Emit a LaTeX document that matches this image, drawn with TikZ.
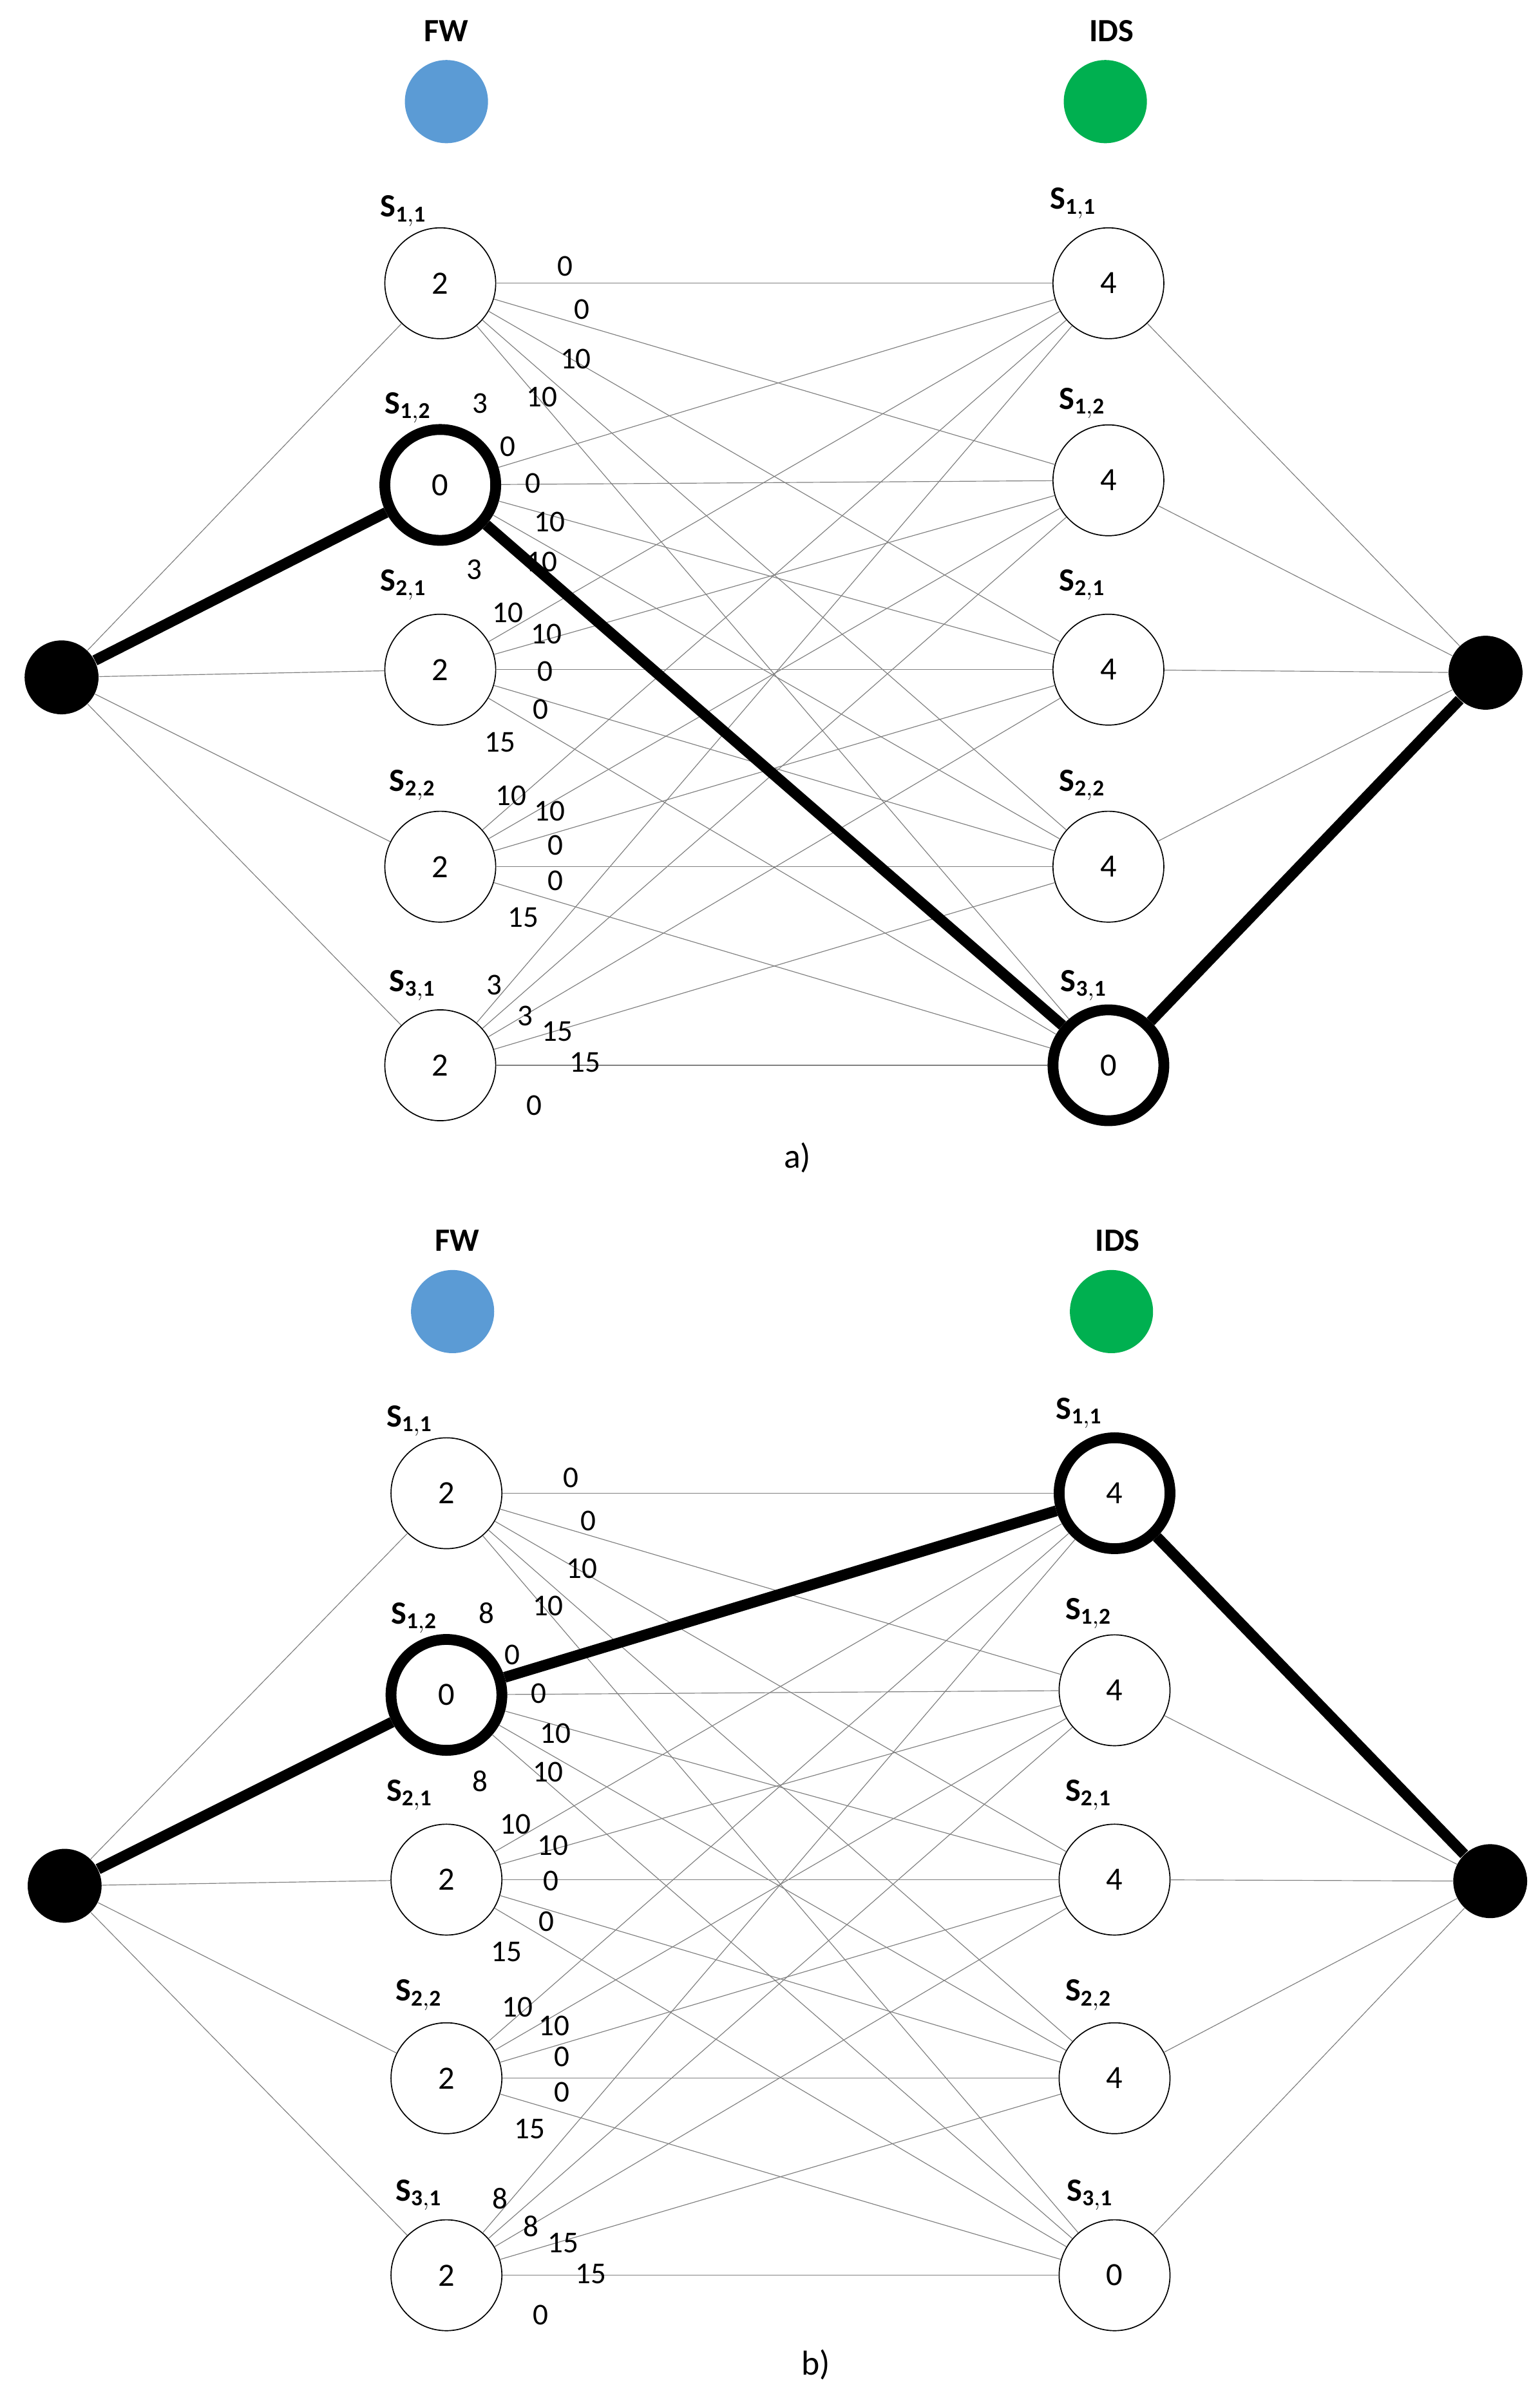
\documentclass[tikz,border=0pt]{standalone}
\usepackage{fontspec}
\setmainfont{Carlito}
\begin{document}
\begin{tikzpicture}[x=0.025cm,y=-0.025cm,
  st/.style={circle,draw,line width=0.5pt,minimum size=1.8cm,inner sep=0pt,font=\fontsize{15}{18}\selectfont},
  hot/.style={line width=5pt},
  dot/.style={circle,fill=black,minimum size=1.2cm,inner sep=0pt},
  ed/.style={draw=gray,line width=0.35pt},
  big/.style={line width=5pt},
  lab/.style={font=\fontsize{14}{16}\selectfont},
  sl/.style={font=\fontsize{15}{18}\selectfont\bfseries},
  captxt/.style={font=\fontsize{16}{19}\selectfont}]
\useasboundingbox (0,0) rectangle (1000,1561);
% ---------- panel a
\node[sl] (fwa) at (290,20) {FW};
\node[sl] (idsa) at (722,20) {IDS};
\node[circle,fill={rgb,255:red,91;green,155;blue,213},minimum size=1.35cm] (fwca) at (290,66) {};
\node[circle,fill={rgb,255:red,0;green,176;blue,80},minimum size=1.35cm] (idsca) at (718,66) {};
\node[st] (aL1) at (286,184) {2};
\node[st,hot] (aL2) at (286,315) {0};
\node[st] (aL3) at (286,435) {2};
\node[st] (aL4) at (286,563) {2};
\node[st] (aL5) at (286,692) {2};
\node[st] (aR1) at (720,184) {4};
\node[st] (aR2) at (720,312) {4};
\node[st] (aR3) at (720,435) {4};
\node[st] (aR4) at (720,563) {4};
\node[st,hot] (aR5) at (720,692) {0};
\node[dot] (aS) at (40,440) {};
\node[dot] (aT) at (965,437) {};
\foreach \i in {1,...,5}{
  \draw[ed] (aS) -- (aL\i);
  \draw[ed] (aR\i) -- (aT);
  \foreach \j in {1,...,5}{\draw[ed] (aL\i) -- (aR\j);}}
\draw[big] (aS) -- (aL2);
\draw[big] (aL2) -- (aR5);
\draw[big] (aR5) -- (aT);
\foreach \x/\y/\t [count=\n] in {367/173/0,378/201/0,374/233/10,352/258/10,312/262/3,330/290/0,346/314/0,357/339/10,352/365/10,308/370/3,330/398/10,355/412/10,354/436/0,351/461/0,325/482/15,332/517/10,357/527/10,361/549/0,361/572/0,340/596/15,321/640/3,341/660/3,362/670/15,380/690/15,347/718/0}
  \node[lab] (la\n) at (\x,\y) {\t};
\foreach \x/\y/\s [count=\n] in {262/137/{1,1},265/265/{1,2},262/380/{2,1},268/510/{2,2},268/640/{3,1},697/132/{1,1},703/262/{1,2},703/380/{2,1},703/510/{2,2},704/640/{3,1}}
  \node[sl] (sa\n) at (\x,\y) {S$_{\mathbf{\s}}$};
\node[captxt] (capa) at (518,752) {a)};
% ---------- panel b
\node[sl] (fwb) at (297,806) {FW};
\node[sl] (idsb) at (726,806) {IDS};
\node[circle,fill={rgb,255:red,91;green,155;blue,213},minimum size=1.35cm] (fwcb) at (294,852) {};
\node[circle,fill={rgb,255:red,0;green,176;blue,80},minimum size=1.35cm] (idscb) at (722,852) {};
\node[st] (bL1) at (290,970) {2};
\node[st,hot] (bL2) at (290,1101) {0};
\node[st] (bL3) at (290,1221) {2};
\node[st] (bL4) at (290,1350) {2};
\node[st] (bL5) at (290,1478) {2};
\node[st,hot] (bR1) at (724,970) {4};
\node[st] (bR2) at (724,1098) {4};
\node[st] (bR3) at (724,1221) {4};
\node[st] (bR4) at (724,1350) {4};
\node[st] (bR5) at (724,1478) {0};
\node[dot] (bS) at (42,1225) {};
\node[dot] (bT) at (968,1222) {};
\foreach \i in {1,...,5}{
  \draw[ed] (bS) -- (bL\i);
  \draw[ed] (bR\i) -- (bT);
  \foreach \j in {1,...,5}{\draw[ed] (bL\i) -- (bR\j);}}
\draw[big] (bS) -- (bL2);
\draw[big] (bL2) -- (bR1);
\draw[big] (bR1) -- (bT);
\foreach \x/\y/\t [count=\n] in {371/960/0,382/988/0,378/1019/10,356/1043/10,316/1048/8,333/1075/0,350/1100/0,361/1126/10,356/1151/10,312/1157/8,335/1185/10,359/1199/10,358/1222/0,355/1248/0,329/1268/15,336/1304/10,360/1316/10,365/1336/0,365/1359/0,344/1383/15,325/1428/8,345/1446/8,366/1457/15,384/1477/15,351/1504/0}
  \node[lab] (lb\n) at (\x,\y) {\t};
\foreach \x/\y/\s [count=\n] in {266/923/{1,1},269/1051/{1,2},266/1166/{2,1},272/1296/{2,2},272/1426/{3,1},701/918/{1,1},707/1048/{1,2},707/1166/{2,1},707/1296/{2,2},708/1426/{3,1}}
  \node[sl] (sb\n) at (\x,\y) {S$_{\mathbf{\s}}$};
\node[captxt] (capb) at (530,1536) {b)};
\end{tikzpicture}
\end{document}
